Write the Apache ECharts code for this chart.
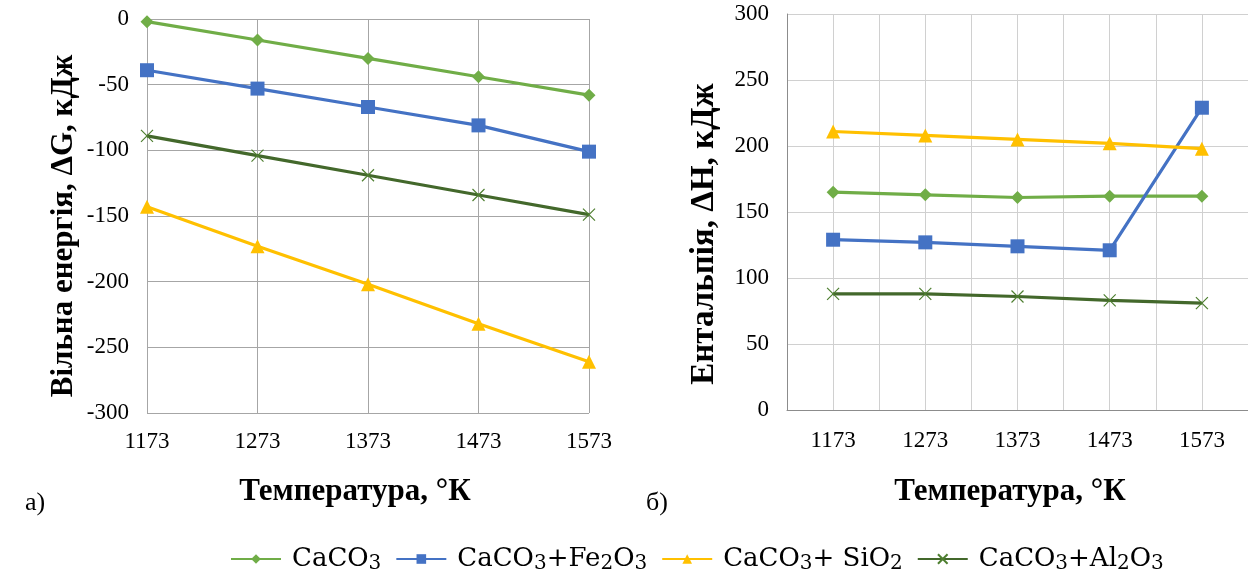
<!DOCTYPE html>
<html>
<head>
<meta charset="utf-8">
<script src="https://cdn.jsdelivr.net/npm/echarts@6/dist/echarts.min.js"></script>
<style>
  html, body { margin: 0; padding: 0; background: #fff; }
  #chart { width: 1248px; height: 575px; }
</style>
</head>
<body>
<div id="chart"></div>
<script>
// temperatures, K
const temps = ["1173", "1273", "1373", "1473", "1573"];

// a) free energy dG, kJ
const gCaCO3 = [-2, -16, -30, -44, -58];
const gFe2O3 = [-39, -53, -67, -81, -101];
const gSiO2 = [-143, -173, -202, -232, -261];
const gAl2O3 = [-89, -104, -119, -134, -149];

// б) enthalpy dH, kJ
const hCaCO3 = [165, 163, 161, 162, 162];
const hFe2O3 = [129, 127, 124, 121, 229];
const hSiO2 = [211, 208, 205, 202, 198];
const hAl2O3 = [88, 88, 86, 83, 81];

const seriesNames = ["CaCO3", "CaCO3+Fe2O3", "CaCO3+ SiO2", "CaCO3+Al2O3"];

const FONT = "Liberation Serif";
const colors = ["#70ad47", "#4472c4", "#ffc000", "#43682b"];
const crossPath = "path://M0,0L10,10M10,0L0,10";

function lineSeries(idx, data, xAxisIndex, yAxisIndex) {
  const cross = idx === 3;
  return {
    name: seriesNames[idx],
    type: "line",
    xAxisIndex,
    yAxisIndex,
    data,
    symbol: ["diamond", "rect", "triangle", crossPath][idx],
    symbolSize: [13, 14, 14, 12][idx],
    lineStyle: { color: colors[idx], width: 3.2 },
    itemStyle: cross
      ? { color: "rgba(0,0,0,0)", borderColor: "#4e7f30", borderWidth: 1.2 }
      : { color: colors[idx] },
    color: colors[idx],
  };
}

const tickLabel = { fontFamily: FONT, fontSize: 23, color: "#000" };

function label(text, x, y, rotated, size) {
  return {
    type: "text",
    x,
    y,
    rotation: rotated ? Math.PI / 2 : 0,
    style: {
      text,
      font: `bold ${size}px "Liberation Serif"`,
      fill: "#000",
      align: "center",
      verticalAlign: "middle",
      textAlign: "center",
      textVerticalAlign: "middle",
    },
  };
}

const chart = echarts.init(document.getElementById("chart"));

chart.setOption({
  backgroundColor: "#fff",
  animation: false,
  graphic: [
    label("Вільна енергія, ΔG, кДж", 64, 226, true, 31),
    label("Ентальпія, ΔН, кДж", 704, 234, true, 33),
    label("Температура, °К", 355, 492, false, 31),
    label("Температура, °К", 1010, 492, false, 31),
  ],
  title: [
    { text: "а)", left: 20, top: 485, textStyle: { fontFamily: FONT, fontSize: 26, fontWeight: "normal", color: "#000" } },
    { text: "б)", left: 641, top: 485, textStyle: { fontFamily: FONT, fontSize: 26, fontWeight: "normal", color: "#000" } },
  ],
  legend: {
    left: 225,
    top: 541,
    itemWidth: 50,
    itemHeight: 12,
    itemGap: 14,
    data: seriesNames,
    formatter: (name) => name.replace(/(\d+)/g, "{s|$1}"),
    textStyle: {
      fontFamily: "DejaVu Serif",
      fontSize: 26,
      color: "#000",
      padding: [0, 0, 0, 6],
      rich: {
        s: { fontFamily: "DejaVu Serif", fontSize: 20, color: "#000", padding: [9, 0, 0, 0] },
      },
    },
  },
  grid: [
    { left: 147, top: 19, width: 442, height: 394 },
    { left: 787, top: 14, width: 462, height: 396 },
  ],
  xAxis: [
    {
      gridIndex: 0,
      type: "category",
      data: temps,
      boundaryGap: false,
      axisLine: { lineStyle: { color: "#a6a6a6" } },
      axisTick: { show: false },
      axisLabel: { ...tickLabel, margin: 17 },
      splitLine: { show: true, lineStyle: { color: "#a6a6a6", width: 1 } },
    },
    {
      gridIndex: 1,
      type: "category",
      data: temps,
      boundaryGap: true,
      axisLine: { lineStyle: { color: "#8c8c8c" } },
      axisTick: { show: false },
      axisLabel: { ...tickLabel, margin: 19 },
      splitLine: { show: true, lineStyle: { color: "#d0d0d0", width: 1 } },
    },
    {
      // second axis only to draw gridlines through the category centres
      gridIndex: 1,
      type: "category",
      data: temps,
      boundaryGap: true,
      axisLine: { show: false },
      axisTick: { show: false, alignWithLabel: true },
      axisLabel: { show: false },
      splitLine: { show: true, alignWithLabel: true, lineStyle: { color: "#d0d0d0", width: 1 } },
    },
  ],
  yAxis: [
    {
      gridIndex: 0,
      type: "value",
      min: -300,
      max: 0,
      interval: 50,
      axisLine: { show: true, lineStyle: { color: "#a6a6a6" } },
      axisTick: { show: false },
      axisLabel: { ...tickLabel, margin: 18 },
      splitLine: { lineStyle: { color: "#a6a6a6", width: 1 } },
    },
    {
      gridIndex: 1,
      type: "value",
      min: 0,
      max: 300,
      interval: 50,
      axisLine: { show: true, lineStyle: { color: "#8c8c8c" } },
      axisTick: { show: false },
      axisLabel: { ...tickLabel, margin: 18 },
      splitLine: { lineStyle: { color: "#d0d0d0", width: 1 } },
    },
  ],
  series: [
    lineSeries(0, gCaCO3, 0, 0),
    lineSeries(1, gFe2O3, 0, 0),
    lineSeries(2, gSiO2, 0, 0),
    lineSeries(3, gAl2O3, 0, 0),
    lineSeries(0, hCaCO3, 1, 1),
    lineSeries(1, hFe2O3, 1, 1),
    lineSeries(2, hSiO2, 1, 1),
    lineSeries(3, hAl2O3, 1, 1),
  ],
});
</script>
</body>
</html>
